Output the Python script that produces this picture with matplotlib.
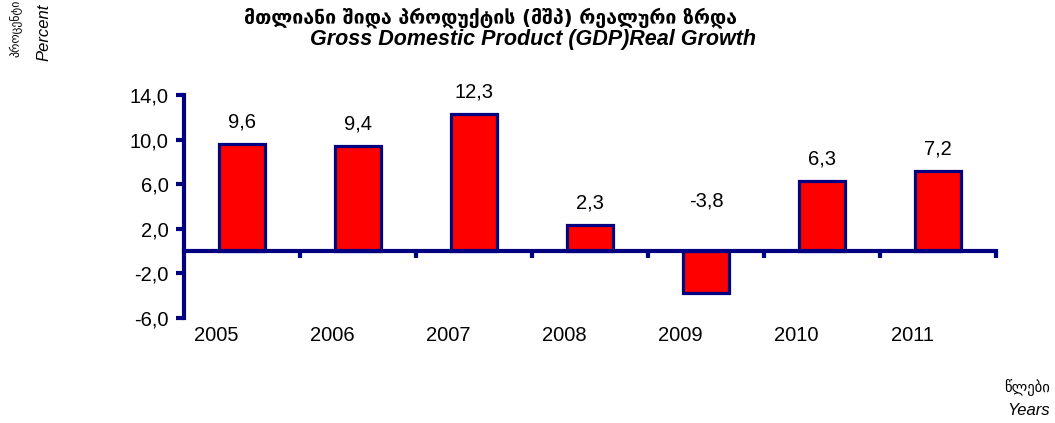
import matplotlib
matplotlib.use("Agg")
import matplotlib.pyplot as plt
import matplotlib.transforms as mtransforms
import numpy as np

years = ["2005", "2006", "2007", "2008", "2009", "2010", "2011"]
growth = [9.6, 9.4, 12.3, 2.3, -3.8, 6.3, 7.2]
value_labels = ["9,6", "9,4", "12,3", "2,3", "-3,8", "6,3", "7,2"]
yticks = [-6, -2, 2, 6, 10, 14]
ytick_labels = ["-6,0", "-2,0", "2,0", "6,0", "10,0", "14,0"]

NAVY = "#000080"
W, H = 1055, 423
fig = plt.figure(figsize=(W / 100, H / 100), dpi=100)
plt.rcParams["font.family"] = ["Liberation Sans", "DejaVu Sans"]

ax = fig.add_axes([184 / W, (H - 318) / H, 812 / W, (318 - 95) / H])
x = np.arange(len(years))
ax.bar(x, growth, width=0.4, color="#FF0000", edgecolor=NAVY, linewidth=2.3, zorder=2)

ax.set_xlim(-0.5, len(years) - 0.5)
ax.set_ylim(-6, 14)
ax.set_yticks(yticks)
ax.set_yticklabels(ytick_labels, fontsize=14.5)
ax.tick_params(axis="y", colors=NAVY, width=3, length=6, direction="out", pad=5, labelcolor="black")

for s in ["top", "right"]:
    ax.spines[s].set_visible(False)
ax.spines["left"].set_color(NAVY)
ax.spines["left"].set_linewidth(3)
ax.spines["bottom"].set_position(("data", 0))
ax.spines["bottom"].set_color(NAVY)
ax.spines["bottom"].set_linewidth(3)
ax.spines["bottom"].set_zorder(3)
ax.set_xticks(np.arange(0.5, len(years), 1.0))
ax.set_xticklabels([])
ax.tick_params(axis="x", colors=NAVY, width=3, length=5, direction="out")

# year labels below the plot
trans = mtransforms.blended_transform_factory(ax.transData, ax.transAxes)
for i, yr in enumerate(years):
    ax.text(i - 0.22, -0.077, yr, transform=trans, ha="center", va="center", fontsize=14.5)

# value labels
for i, (v, lab) in enumerate(zip(growth, value_labels)):
    ypos = v + 2.0 if v >= 0 else 4.5
    ax.text(i, ypos, lab, ha="center", va="center", fontsize=14.5)

# titles
fig.text(490 / W, 1 - 18 / H, "მთლიანი შიდა პროდუქტის (მშპ) რეალური ზრდა",
         ha="center", va="center", fontsize=14, fontweight="bold", family=["DejaVu Sans"])
fig.text(533 / W, 1 - 40 / H, "Gross Domestic Product (GDP)Real Growth",
         ha="center", va="center", fontsize=15.5, fontweight="bold", fontstyle="italic")

# y axis label
fig.text(16 / W, 1 - 28 / H, "პროცენტი", rotation=90, ha="center", va="center",
         fontsize=8.5, family=["DejaVu Sans"])
fig.text(44 / W, 1 - 32 / H, "Percent", rotation=90, ha="center", va="center",
         fontsize=12, fontstyle="italic")

# x axis label
fig.text(1050 / W, 1 - 388 / H, "წლები", ha="right", va="center", fontsize=10.5, family=["DejaVu Sans"])
fig.text(1050 / W, 1 - 410 / H, "Years", ha="right", va="center", fontsize=12, fontstyle="italic")

fig.savefig("out.png", dpi=100)
